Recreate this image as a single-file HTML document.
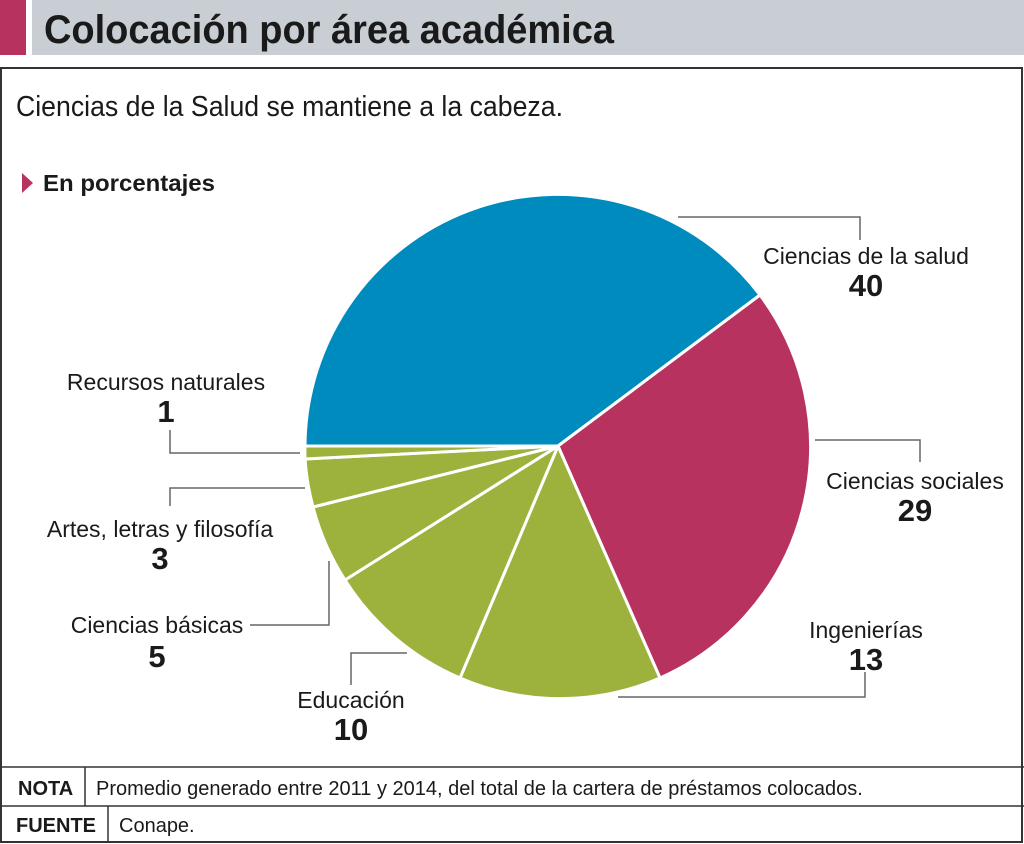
<!DOCTYPE html>
<html><head><meta charset="utf-8"><style>
html,body{margin:0;padding:0;background:#fff}
svg{display:block}
text{font-family:"Liberation Sans Narrow","Liberation Sans",sans-serif;fill:#1a1a1a}
</style></head><body>
<svg width="1024" height="844" viewBox="0 0 1024 844">
<rect x="0" y="0" width="26" height="55" fill="#b8325f"/>
<rect x="32" y="0" width="992" height="55" fill="#c9ced4"/>
<text x="44" y="43" font-size="40" font-weight="bold" fill="#1a1a1a" textLength="570" lengthAdjust="spacingAndGlyphs">Colocación por área académica</text>
<rect x="1" y="68" width="1021" height="774" fill="none" stroke="#333" stroke-width="2"/>
<text x="16" y="116" font-size="29" textLength="547" lengthAdjust="spacingAndGlyphs">Ciencias de la Salud se mantiene a la cabeza.</text>
<polygon points="22,173 33,183 22,193" fill="#b8325f"/>
<text x="43" y="191" font-size="23" font-weight="bold" textLength="172" lengthAdjust="spacingAndGlyphs">En porcentajes</text>
<g stroke="#fff" stroke-width="3" stroke-linejoin="round">
<path d="M558,446 L305,446 A253,253 0 0 1 760,295 Z" fill="#008bbf"/>
<path d="M558,446 L760,295 A253,253 0 0 1 660,678 Z" fill="#b8325f"/>
<path d="M558,446 L660,678 A253,253 0 0 1 460,678 Z" fill="#9cb23c"/>
<path d="M558,446 L460,678 A253,253 0 0 1 345,580 Z" fill="#9cb23c"/>
<path d="M558,446 L345,580 A253,253 0 0 1 313,507 Z" fill="#9cb23c"/>
<path d="M558,446 L313,507 A253,253 0 0 1 305,459 Z" fill="#9cb23c"/>
<path d="M558,446 L305,459 A253,253 0 0 1 305,446 Z" fill="#9cb23c"/>
</g>
<g fill="none" stroke="#666" stroke-width="1.5">
<polyline points="678,217 860,217 860,240"/>
<polyline points="815,440 920,440 920,462"/>
<polyline points="618,697 865,697 865,672"/>
<polyline points="407,653 351,653 351,685"/>
<polyline points="250,625 329,625 329,561"/>
<polyline points="305,488 170,488 170,506"/>
<polyline points="300,453 170,453 170,430"/>
</g>
<g font-size="23">
<text x="866" y="264" text-anchor="middle">Ciencias de la salud</text>
<text x="866" y="296" text-anchor="middle" font-size="31" font-weight="bold">40</text>
<text x="915" y="489" text-anchor="middle">Ciencias sociales</text>
<text x="915" y="521" text-anchor="middle" font-size="31" font-weight="bold">29</text>
<text x="866" y="638" text-anchor="middle">Ingenierías</text>
<text x="866" y="670" text-anchor="middle" font-size="31" font-weight="bold">13</text>
<text x="351" y="708" text-anchor="middle">Educación</text>
<text x="351" y="740" text-anchor="middle" font-size="31" font-weight="bold">10</text>
<text x="157" y="633" text-anchor="middle">Ciencias básicas</text>
<text x="157" y="667" text-anchor="middle" font-size="31" font-weight="bold">5</text>
<text x="160" y="537" text-anchor="middle">Artes, letras y filosofía</text>
<text x="160" y="569" text-anchor="middle" font-size="31" font-weight="bold">3</text>
<text x="166" y="390" text-anchor="middle">Recursos naturales</text>
<text x="166" y="422" text-anchor="middle" font-size="31" font-weight="bold">1</text>
</g>
<g stroke="#333" stroke-width="1.5">
<line x1="0" y1="767" x2="1024" y2="767"/>
<line x1="0" y1="806" x2="1024" y2="806"/>
<line x1="85" y1="767" x2="85" y2="806"/>
<line x1="108" y1="806" x2="108" y2="842"/>
</g>
<text x="18" y="795" font-size="20" font-weight="bold">NOTA</text>
<text x="96" y="795" font-size="20">Promedio generado entre 2011 y 2014, del total de la cartera de préstamos colocados.</text>
<text x="16" y="832" font-size="20" font-weight="bold">FUENTE</text>
<text x="119" y="832" font-size="20">Conape.</text>
</svg>
</body></html>
